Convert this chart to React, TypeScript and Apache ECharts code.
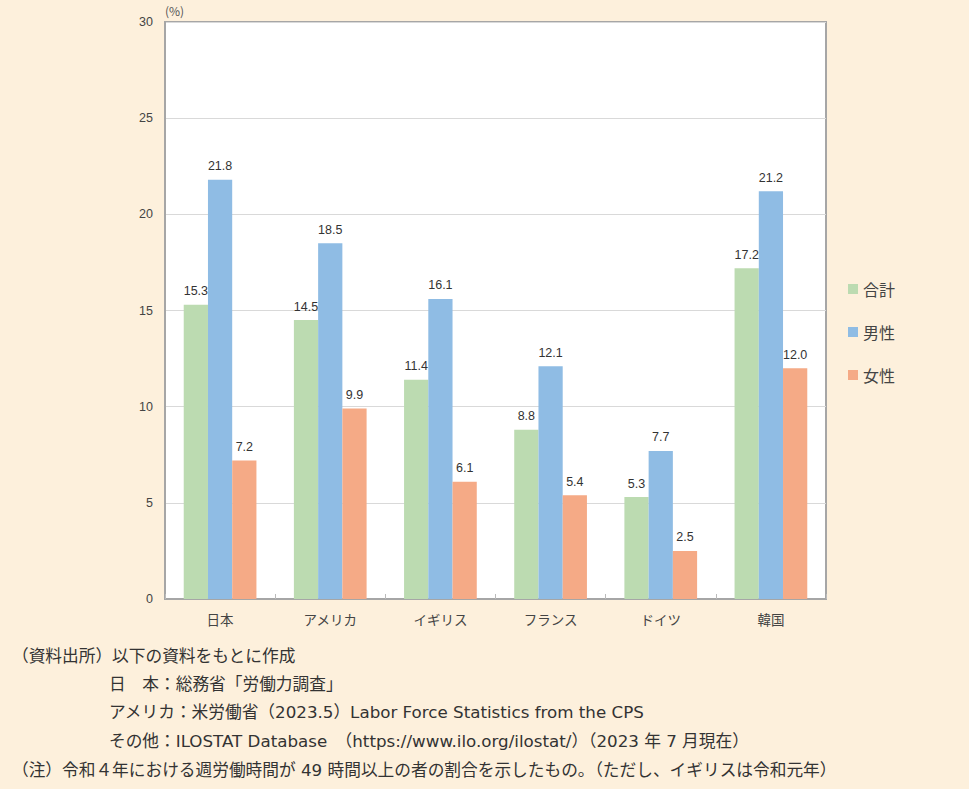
import React, { useEffect, useRef } from "react";
import * as echarts from "echarts";

const categories = ["日本", "アメリカ", "イギリス", "フランス", "ドイツ", "韓国"];
const seriesNames = ["合計", "男性", "女性"];
// bar heights as drawn in the picture
const totalValues = [15.3, 14.5, 11.4, 8.8, 5.3, 17.2];
const maleValues = [21.8, 18.5, 15.6, 12.1, 7.7, 21.2];
const femaleValues = [7.2, 9.9, 6.1, 5.4, 2.5, 12.0];
// value labels as printed
const totalLabels = ["15.3", "14.5", "11.4", "8.8", "5.3", "17.2"];
const maleLabels = ["21.8", "18.5", "16.1", "12.1", "7.7", "21.2"];
const femaleLabels = ["7.2", "9.9", "6.1", "5.4", "2.5", "12.0"];
const noteLines = [
  "（資料出所）以下の資料をもとに作成",
  "日　本：総務省「労働力調査」",
  "アメリカ：米労働省（2023.5）Labor Force Statistics from the CPS",
  "その他：ILOSTAT Database　（https://www.ilo.org/ilostat/）（2023 年 7 月現在）",
  "（注）令和４年における週労働時間が 49 時間以上の者の割合を示したもの。（ただし、イギリスは令和元年）",
];

const colors = ["#BCDBB1", "#8FBCE4", "#F5AA86"];
const FONT = "'Noto Sans CJK JP', 'Noto Sans', sans-serif";
const NOTE_FONT = "'DejaVu Sans', 'Noto Sans CJK JP', sans-serif";

export default function App() {
  const ref = useRef<HTMLDivElement>(null);
  useEffect(() => {
    if (!ref.current) return;
    const chart = echarts.init(ref.current, undefined, { renderer: "svg" });
    const mk = (name: string, data: number[], labels: string[], color: string) => ({
      name,
      type: "bar",
      data,
      barGap: "0%",
      barCategoryGap: "34%",
      itemStyle: { color },
      label: {
        show: true,
        position: "top",
        distance: 7,
        fontSize: 12.5,
        color: "#333",
        fontFamily: "'Liberation Sans', 'Noto Sans', sans-serif",
        formatter: (p: any) => labels[p.dataIndex],
      },
    });
    const indentX = 109;
    const noteYs = [658, 686, 714, 743, 772];
    const noteXs = [12, indentX, indentX, indentX, 12];
    chart.setOption({
      animation: false,
      backgroundColor: "#FDF0DC",
      textStyle: { fontFamily: FONT },
      grid: { left: 165, top: 22, width: 661, height: 577, backgroundColor: "#fff", show: true, borderColor: "#A6A6A6", borderWidth: 2 },
      legend: {
        orient: "vertical",
        left: 843,
        top: 276,
        itemWidth: 10,
        itemHeight: 10,
        itemGap: 27,
        icon: "rect",
        textStyle: { fontSize: 16, color: "#444", fontFamily: FONT },
        data: seriesNames,
      },
      xAxis: {
        type: "category",
        data: categories,
        axisLine: { lineStyle: { color: "#A6A6A6", width: 2 } },
        axisTick: { show: true, inside: true, length: 5, lineStyle: { color: "#BBB" } },
        axisLabel: { fontSize: 13.5, color: "#444", margin: 13, fontFamily: FONT },
      },
      yAxis: {
        type: "value",
        min: 0,
        max: 30,
        interval: 5,
        axisLine: { show: true, lineStyle: { color: "#A6A6A6", width: 2 } },
        axisTick: { show: false },
        splitLine: { lineStyle: { color: "#D9D9D9" } },
        axisLabel: { fontSize: 12.5, color: "#444", margin: 12, fontFamily: "'Liberation Sans', 'Noto Sans', sans-serif" },
      },
      series: [
        mk(seriesNames[0], totalValues, totalLabels, colors[0]),
        mk(seriesNames[1], maleValues, maleLabels, colors[1]),
        mk(seriesNames[2], femaleValues, femaleLabels, colors[2]),
      ],
      graphic: [
        { type: "text", left: 165, top: 4, style: { text: "(%)", fontSize: 12, fill: "#555", fontFamily: FONT } },
        ...noteLines.map((t, i) => ({
          type: "text",
          left: noteXs[i],
          top: noteYs[i] - 10,
          style: { text: t, fontSize: 16.7, fill: "#333", fontFamily: NOTE_FONT },
        })),
      ],
    });
    return () => chart.dispose();
  }, []);
  return <div ref={ref} style={{ position: "fixed", left: 0, top: 0, width: 969, height: 789 }} />;
}
